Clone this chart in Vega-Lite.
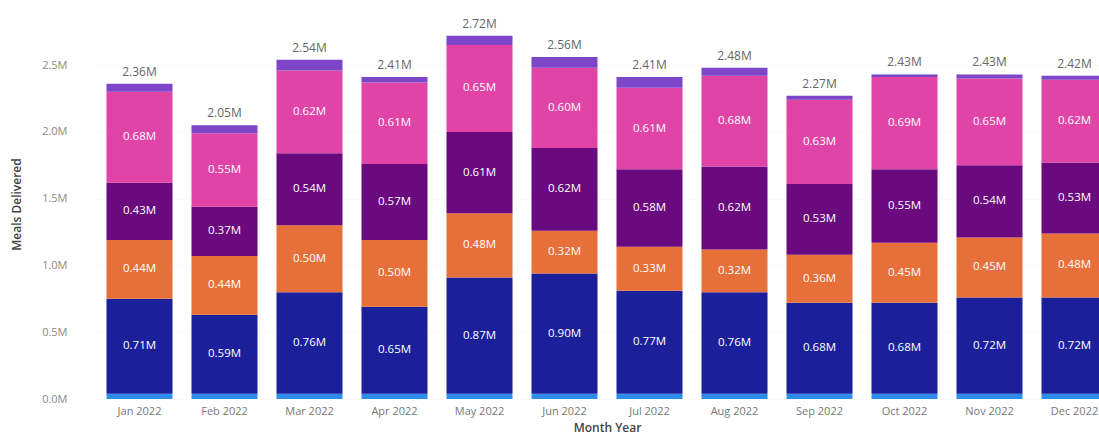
{
  "$schema": "https://vega.github.io/schema/vega-lite/v6.json",
  "width": 1002,
  "height": 390,
  "autosize": {"type": "none"},
  "padding": {"left": 97, "top": 9, "right": 0, "bottom": 40},
  "config": {"view": {"stroke": null}, "font": "Open Sans"},
  "data": {"values": [
    {"month": "Jan 2022", "series": "S1", "ord": 1, "v": 0.04},
    {"month": "Jan 2022", "series": "S2", "ord": 2, "v": 0.71},
    {"month": "Jan 2022", "series": "S3", "ord": 3, "v": 0.44},
    {"month": "Jan 2022", "series": "S4", "ord": 4, "v": 0.43},
    {"month": "Jan 2022", "series": "S5", "ord": 5, "v": 0.68},
    {"month": "Jan 2022", "series": "S6", "ord": 6, "v": 0.06},
    {"month": "Feb 2022", "series": "S1", "ord": 1, "v": 0.04},
    {"month": "Feb 2022", "series": "S2", "ord": 2, "v": 0.59},
    {"month": "Feb 2022", "series": "S3", "ord": 3, "v": 0.44},
    {"month": "Feb 2022", "series": "S4", "ord": 4, "v": 0.37},
    {"month": "Feb 2022", "series": "S5", "ord": 5, "v": 0.55},
    {"month": "Feb 2022", "series": "S6", "ord": 6, "v": 0.06},
    {"month": "Mar 2022", "series": "S1", "ord": 1, "v": 0.04},
    {"month": "Mar 2022", "series": "S2", "ord": 2, "v": 0.76},
    {"month": "Mar 2022", "series": "S3", "ord": 3, "v": 0.50},
    {"month": "Mar 2022", "series": "S4", "ord": 4, "v": 0.54},
    {"month": "Mar 2022", "series": "S5", "ord": 5, "v": 0.62},
    {"month": "Mar 2022", "series": "S6", "ord": 6, "v": 0.08},
    {"month": "Apr 2022", "series": "S1", "ord": 1, "v": 0.04},
    {"month": "Apr 2022", "series": "S2", "ord": 2, "v": 0.65},
    {"month": "Apr 2022", "series": "S3", "ord": 3, "v": 0.50},
    {"month": "Apr 2022", "series": "S4", "ord": 4, "v": 0.57},
    {"month": "Apr 2022", "series": "S5", "ord": 5, "v": 0.61},
    {"month": "Apr 2022", "series": "S6", "ord": 6, "v": 0.04},
    {"month": "May 2022", "series": "S1", "ord": 1, "v": 0.04},
    {"month": "May 2022", "series": "S2", "ord": 2, "v": 0.87},
    {"month": "May 2022", "series": "S3", "ord": 3, "v": 0.48},
    {"month": "May 2022", "series": "S4", "ord": 4, "v": 0.61},
    {"month": "May 2022", "series": "S5", "ord": 5, "v": 0.65},
    {"month": "May 2022", "series": "S6", "ord": 6, "v": 0.07},
    {"month": "Jun 2022", "series": "S1", "ord": 1, "v": 0.04},
    {"month": "Jun 2022", "series": "S2", "ord": 2, "v": 0.90},
    {"month": "Jun 2022", "series": "S3", "ord": 3, "v": 0.32},
    {"month": "Jun 2022", "series": "S4", "ord": 4, "v": 0.62},
    {"month": "Jun 2022", "series": "S5", "ord": 5, "v": 0.60},
    {"month": "Jun 2022", "series": "S6", "ord": 6, "v": 0.08},
    {"month": "Jul 2022", "series": "S1", "ord": 1, "v": 0.04},
    {"month": "Jul 2022", "series": "S2", "ord": 2, "v": 0.77},
    {"month": "Jul 2022", "series": "S3", "ord": 3, "v": 0.33},
    {"month": "Jul 2022", "series": "S4", "ord": 4, "v": 0.58},
    {"month": "Jul 2022", "series": "S5", "ord": 5, "v": 0.61},
    {"month": "Jul 2022", "series": "S6", "ord": 6, "v": 0.08},
    {"month": "Aug 2022", "series": "S1", "ord": 1, "v": 0.04},
    {"month": "Aug 2022", "series": "S2", "ord": 2, "v": 0.76},
    {"month": "Aug 2022", "series": "S3", "ord": 3, "v": 0.32},
    {"month": "Aug 2022", "series": "S4", "ord": 4, "v": 0.62},
    {"month": "Aug 2022", "series": "S5", "ord": 5, "v": 0.68},
    {"month": "Aug 2022", "series": "S6", "ord": 6, "v": 0.06},
    {"month": "Sep 2022", "series": "S1", "ord": 1, "v": 0.04},
    {"month": "Sep 2022", "series": "S2", "ord": 2, "v": 0.68},
    {"month": "Sep 2022", "series": "S3", "ord": 3, "v": 0.36},
    {"month": "Sep 2022", "series": "S4", "ord": 4, "v": 0.53},
    {"month": "Sep 2022", "series": "S5", "ord": 5, "v": 0.63},
    {"month": "Sep 2022", "series": "S6", "ord": 6, "v": 0.03},
    {"month": "Oct 2022", "series": "S1", "ord": 1, "v": 0.04},
    {"month": "Oct 2022", "series": "S2", "ord": 2, "v": 0.68},
    {"month": "Oct 2022", "series": "S3", "ord": 3, "v": 0.45},
    {"month": "Oct 2022", "series": "S4", "ord": 4, "v": 0.55},
    {"month": "Oct 2022", "series": "S5", "ord": 5, "v": 0.69},
    {"month": "Oct 2022", "series": "S6", "ord": 6, "v": 0.02},
    {"month": "Nov 2022", "series": "S1", "ord": 1, "v": 0.04},
    {"month": "Nov 2022", "series": "S2", "ord": 2, "v": 0.72},
    {"month": "Nov 2022", "series": "S3", "ord": 3, "v": 0.45},
    {"month": "Nov 2022", "series": "S4", "ord": 4, "v": 0.54},
    {"month": "Nov 2022", "series": "S5", "ord": 5, "v": 0.65},
    {"month": "Nov 2022", "series": "S6", "ord": 6, "v": 0.03},
    {"month": "Dec 2022", "series": "S1", "ord": 1, "v": 0.04},
    {"month": "Dec 2022", "series": "S2", "ord": 2, "v": 0.72},
    {"month": "Dec 2022", "series": "S3", "ord": 3, "v": 0.48},
    {"month": "Dec 2022", "series": "S4", "ord": 4, "v": 0.53},
    {"month": "Dec 2022", "series": "S5", "ord": 5, "v": 0.62},
    {"month": "Dec 2022", "series": "S6", "ord": 6, "v": 0.03}
  ]},
  "encoding": {
    "x": {
      "field": "month", "type": "ordinal",
      "sort": ["Jan 2022","Feb 2022","Mar 2022","Apr 2022","May 2022","Jun 2022","Jul 2022","Aug 2022","Sep 2022","Oct 2022","Nov 2022","Dec 2022"],
      "scale": {"range": [0, 1020], "paddingInner": 0.2235, "paddingOuter": 0.11175},
      "axis": {"title": "Month Year", "domain": false, "ticks": false, "labelAngle": 0, "labelColor": "#777", "labelFontSize": 11, "labelPadding": 6, "titleColor": "#444", "titleFontSize": 12, "titleFontWeight": 600, "titlePadding": 6}
    }
  },
  "layer": [
    {
      "transform": [{"stack": "v", "groupby": ["month"], "sort": [{"field": "ord"}], "as": ["y0", "y1"]}],
      "mark": {"type": "bar"},
      "encoding": {
        "y": {"field": "y0", "type": "quantitative",
          "scale": {"domain": [0, 2.92], "nice": false, "zero": true},
          "axis": {"title": "Meals Delivered", "values": [0, 0.5, 1, 1.5, 2, 2.5], "labelExpr": "format(datum.value,'.1f')+'M'", "domain": false, "ticks": false, "labelColor": "#888", "labelFontSize": 11, "labelPadding": 30, "grid": true, "gridColor": "#ececec", "gridDash": [1, 3], "titleColor": "#444", "titleFontSize": 12, "titleFontWeight": 600, "titlePadding": 18}},
        "y2": {"field": "y1"},
        "color": {"field": "series", "type": "nominal", "legend": null,
          "scale": {"domain": ["S1","S2","S3","S4","S5","S6"], "range": ["#2F8DEB", "#1B1F9A", "#E66F3A", "#6A0A7E", "#E044A7", "#7D46C8"]}}
      }
    },
    {
      "transform": [
        {"stack": "v", "groupby": ["month"], "sort": [{"field": "ord"}], "as": ["y0", "y1"]},
        {"filter": "datum.ord >= 2 && datum.ord <= 5"},
        {"calculate": "(datum.y0 + datum.y1) / 2", "as": "ym"},
        {"calculate": "format(datum.v, '.2f') + 'M'", "as": "lab"}
      ],
      "mark": {"type": "text", "color": "white", "fontSize": 11.5, "fontWeight": 500},
      "encoding": {
        "y": {"field": "ym", "type": "quantitative"},
        "text": {"field": "lab"}
      }
    },
    {
      "transform": [
        {"aggregate": [{"op": "sum", "field": "v", "as": "tot"}], "groupby": ["month"]},
        {"calculate": "format(datum.tot, '.2f') + 'M'", "as": "lab"}
      ],
      "mark": {"type": "text", "color": "#666", "fontSize": 12, "baseline": "bottom", "dy": -5},
      "encoding": {
        "y": {"field": "tot", "type": "quantitative"},
        "text": {"field": "lab"}
      }
    }
  ]
}
